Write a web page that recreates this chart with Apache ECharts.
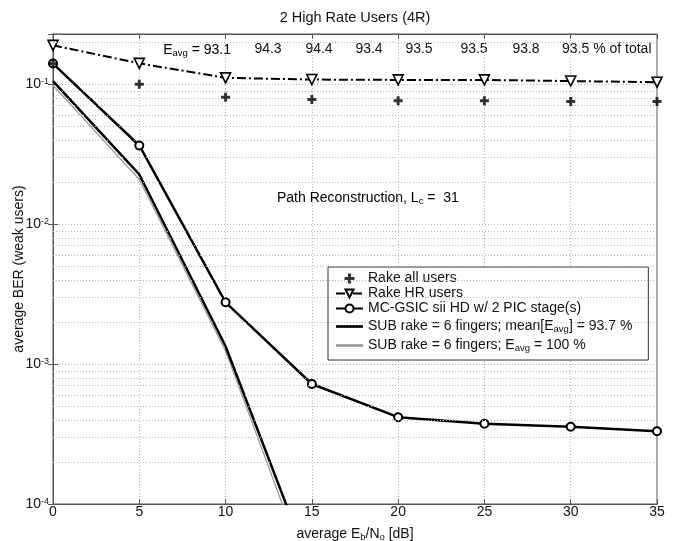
<!DOCTYPE html>
<html>
<head>
<meta charset="utf-8">
<script src="https://cdn.jsdelivr.net/npm/echarts@6/dist/echarts.min.js"></script>
<style>
  html, body { margin: 0; padding: 0; background: #fff; }
  #chart { width: 675px; height: 541px; }
</style>
</head>
<body>
<div id="chart"></div>
<script>
  // Eb/No points (dB)
  const EBNO = [0, 5, 10, 15, 20, 25, 30, 35];
  const EBNO_SUB = [0, 5, 10, 15];

  // BER values
  const RAKE_ALL = [0.140, 0.0996, 0.0805, 0.0775, 0.076, 0.076, 0.075, 0.075];
  const RAKE_HR = [0.189, 0.1405, 0.1107, 0.1076, 0.107, 0.107, 0.105, 0.103];
  const MC_GSIC = [0.140, 0.0364, 0.00276, 0.00072, 0.000417, 0.000374, 0.000356, 0.000331];
  const SUB_RAKE = [0.105, 0.0226, 0.00134, 0.000033];
  const SUB_RAKE_FULL = [0.098, 0.0208, 0.00124, 0.000027];

  const EAVG = ["93.1", "94.3", "94.4", "93.4", "93.5", "93.5", "93.8", "93.5"];

  const NAMES = [
    "Rake all users",
    "Rake HR users",
    "MC-GSIC sii HD w/ 2 PIC stage(s)",
    "SUB rake = 6 fingers; mean[E_avg] = 93.7 %",
    "SUB rake = 6 fingers; E_avg = 100 %",
  ];

  const LEGEND_TEXT = {
    [NAMES[0]]: "{m|Rake all users}",
    [NAMES[1]]: "{m|Rake HR users}",
    [NAMES[2]]: "{m|MC-GSIC sii HD w/ 2 PIC stage(s)}",
    [NAMES[3]]: "{m|SUB rake = 6 fingers; mean[E}{s|avg}{m|] = 93.7 %}",
    [NAMES[4]]: "{m|SUB rake = 6 fingers; E}{s|avg}{m| = 100 %}",
  };

  const Y_MIN = -4;
  const Y_MAX = Math.log10(0.2277);
  const FONT = "Arial, 'Liberation Sans', Helvetica, sans-serif";
  const FS = 14;
  const INK = "#111";
  const AXIS_C = "#555";
  const BAR_ICON = "path://M0,0H30V3H0Z";

  const RICH = {
    m: { fontSize: FS, lineHeight: 15, verticalAlign: "top", color: INK, fontFamily: FONT },
    s: { fontSize: 9.5, lineHeight: 10, padding: [8, 0, 0, 0], verticalAlign: "bottom", color: INK, fontFamily: FONT },
  };

  const toLog = (xs, ys) => ys.map((v, i) => [xs[i], Math.log10(v)]);

  // minor log gridlines (2..9 x 10^d)
  const minorLines = [];
  for (let d = -4; d <= -1; d++) {
    for (let k = 2; k <= 9; k++) {
      const v = Math.log10(k * Math.pow(10, d));
      if (v < Y_MAX) minorLines.push({ yAxis: v });
    }
  }

  const gridDot = { color: "#b5b5b5", type: [1, 2], width: 1 };

  const chart = echarts.init(document.getElementById("chart"), null, { renderer: "canvas" });

  const option = {
    animation: false,
    backgroundColor: "#fff",
    textStyle: { fontFamily: FONT },
    grid: {
      left: 53, right: 18, top: 34, bottom: 37,
      outerBoundsMode: "none",
      containLabel: false,
      show: true, borderColor: AXIS_C, borderWidth: 1,
    },
    legend: {
      data: [
        { name: NAMES[0] },
        { name: NAMES[1] },
        { name: NAMES[2] },
        { name: NAMES[3], icon: BAR_ICON, itemStyle: { color: "#000" } },
        { name: NAMES[4], icon: BAR_ICON, itemStyle: { color: "#9a9a9a" } },
      ],
      orient: "vertical",
      left: 328,
      top: 267,
      itemGap: 1,
      itemWidth: 27,
      itemHeight: 10,
      padding: [4, 16, 7, 7],
      backgroundColor: "#fff",
      borderColor: "#333",
      borderWidth: 1,
      selectedMode: false,
      formatter: (name) => LEGEND_TEXT[name],
      textStyle: { fontSize: FS, color: INK, rich: RICH },
    },
    xAxis: [
      {
        type: "value",
        min: 0,
        max: 35,
        interval: 5,
        position: "bottom",
        axisLine: { show: true, lineStyle: { color: AXIS_C } },
        axisTick: { inside: true, length: 5, lineStyle: { color: AXIS_C } },
        axisLabel: { color: INK, fontSize: FS, margin: 1 },
        splitLine: { show: true, lineStyle: gridDot },
        name: "{m|average E}{s|b}{m|/N}{s|o}{m| [dB]}",
        nameLocation: "middle",
        nameGap: 21,
        nameTextStyle: { rich: RICH },
      },
      {
        type: "value",
        min: 0,
        max: 35,
        interval: 5,
        position: "top",
        axisLine: { show: true, lineStyle: { color: AXIS_C } },
        axisTick: { inside: true, length: 5, lineStyle: { color: AXIS_C } },
        axisLabel: { show: false },
        splitLine: { show: false },
      },
    ],
    yAxis: [
      {
        type: "value",
        min: Y_MIN,
        max: Y_MAX,
        interval: 1,
        position: "left",
        axisLine: { show: true, lineStyle: { color: AXIS_C } },
        axisTick: { inside: true, length: 5, lineStyle: { color: AXIS_C } },
        axisLabel: {
          margin: 4,
          formatter: (v) => (Number.isInteger(v) ? "{b|10}{p|" + v + "}" : ""),
          rich: {
            b: { fontSize: FS, lineHeight: 14, padding: [5, 0, 0, 0], verticalAlign: "bottom", color: INK, fontFamily: FONT },
            p: { fontSize: 9, lineHeight: 9, verticalAlign: "top", color: INK, fontFamily: FONT },
          },
        },
        splitLine: { show: true, lineStyle: gridDot },
        name: "average BER (weak users)",
        nameLocation: "middle",
        nameMoveOverlap: false,
        nameGap: 27,
        nameTextStyle: { fontSize: FS, color: INK },
      },
      {
        type: "value",
        min: Y_MIN,
        max: Y_MAX,
        interval: 1,
        position: "right",
        axisLine: { show: true, lineStyle: { color: AXIS_C } },
        axisTick: { inside: true, length: 5, lineStyle: { color: AXIS_C } },
        axisLabel: { show: false },
        splitLine: { show: false },
      },
    ],
    series: [
      {
        type: "line",
        data: [],
        silent: true,
        markLine: {
          silent: true,
          symbol: "none",
          label: { show: false },
          lineStyle: gridDot,
          data: minorLines,
        },
      },
      {
        name: NAMES[0],
        type: "scatter",
        z: 5,
        symbol: "path://M3.4,0H6.6V3.4H10V6.6H6.6V10H3.4V6.6H0V3.4H3.4Z",
        symbolSize: 9,
        itemStyle: { color: "#000" },
        data: toLog(EBNO, RAKE_ALL),
      },
      {
        name: NAMES[1],
        type: "line",
        symbol: "triangle",
        symbolRotate: 180,
        symbolSize: 10,
        showAllSymbol: true,
        lineStyle: { color: "#000", width: 2, type: [9, 3, 2, 3] },
        itemStyle: { color: "#fff", borderColor: "#000", borderWidth: 1.6 },
        data: toLog(EBNO, RAKE_HR),
      },
      {
        name: NAMES[2],
        type: "line",
        symbol: "circle",
        symbolSize: 8,
        showAllSymbol: true,
        lineStyle: { color: "#000", width: 2.5 },
        itemStyle: { color: "#fff", borderColor: "#000", borderWidth: 2 },
        data: toLog(EBNO, MC_GSIC),
      },
      {
        name: NAMES[4],
        type: "line",
        symbol: "none",
        lineStyle: { color: "#9a9a9a", width: 1.3 },
        itemStyle: { color: "#9a9a9a" },
        data: toLog(EBNO_SUB, SUB_RAKE_FULL),
      },
      {
        name: NAMES[3],
        type: "line",
        symbol: "none",
        lineStyle: { color: "#000", width: 2.5 },
        itemStyle: { color: "#000" },
        data: toLog(EBNO_SUB, SUB_RAKE),
      },
    ],
    graphic: [
      {
        type: "text",
        x: 355,
        y: 18,
        style: { text: "2 High Rate Users (4R)", fontSize: 14.5, fill: INK, fontFamily: FONT, align: "center", verticalAlign: "middle" },
      },
      {
        type: "text",
        x: 277,
        y: 199,
        style: { text: "{m|Path Reconstruction, L}{s|c}{m| =  31}", rich: RICH, align: "left", verticalAlign: "middle" },
      },
      {
        type: "text",
        x: 231,
        y: 51,
        style: { text: "{m|E}{s|avg}{m| = " + EAVG[0] + "}", rich: RICH, align: "right", verticalAlign: "middle" },
      },
      ...[268, 319, 369, 419, 474, 526].map((px, i) => ({
        type: "text",
        x: px,
        y: 49,
        style: { text: EAVG[i + 1], fontSize: FS, fill: INK, fontFamily: FONT, align: "center", verticalAlign: "middle" },
      })),
      {
        type: "text",
        x: 562,
        y: 49,
        style: { text: EAVG[7] + " % of total", fontSize: FS, fill: INK, fontFamily: FONT, align: "left", verticalAlign: "middle" },
      },
    ],
  };

  chart.setOption(option);
</script>
</body>
</html>
